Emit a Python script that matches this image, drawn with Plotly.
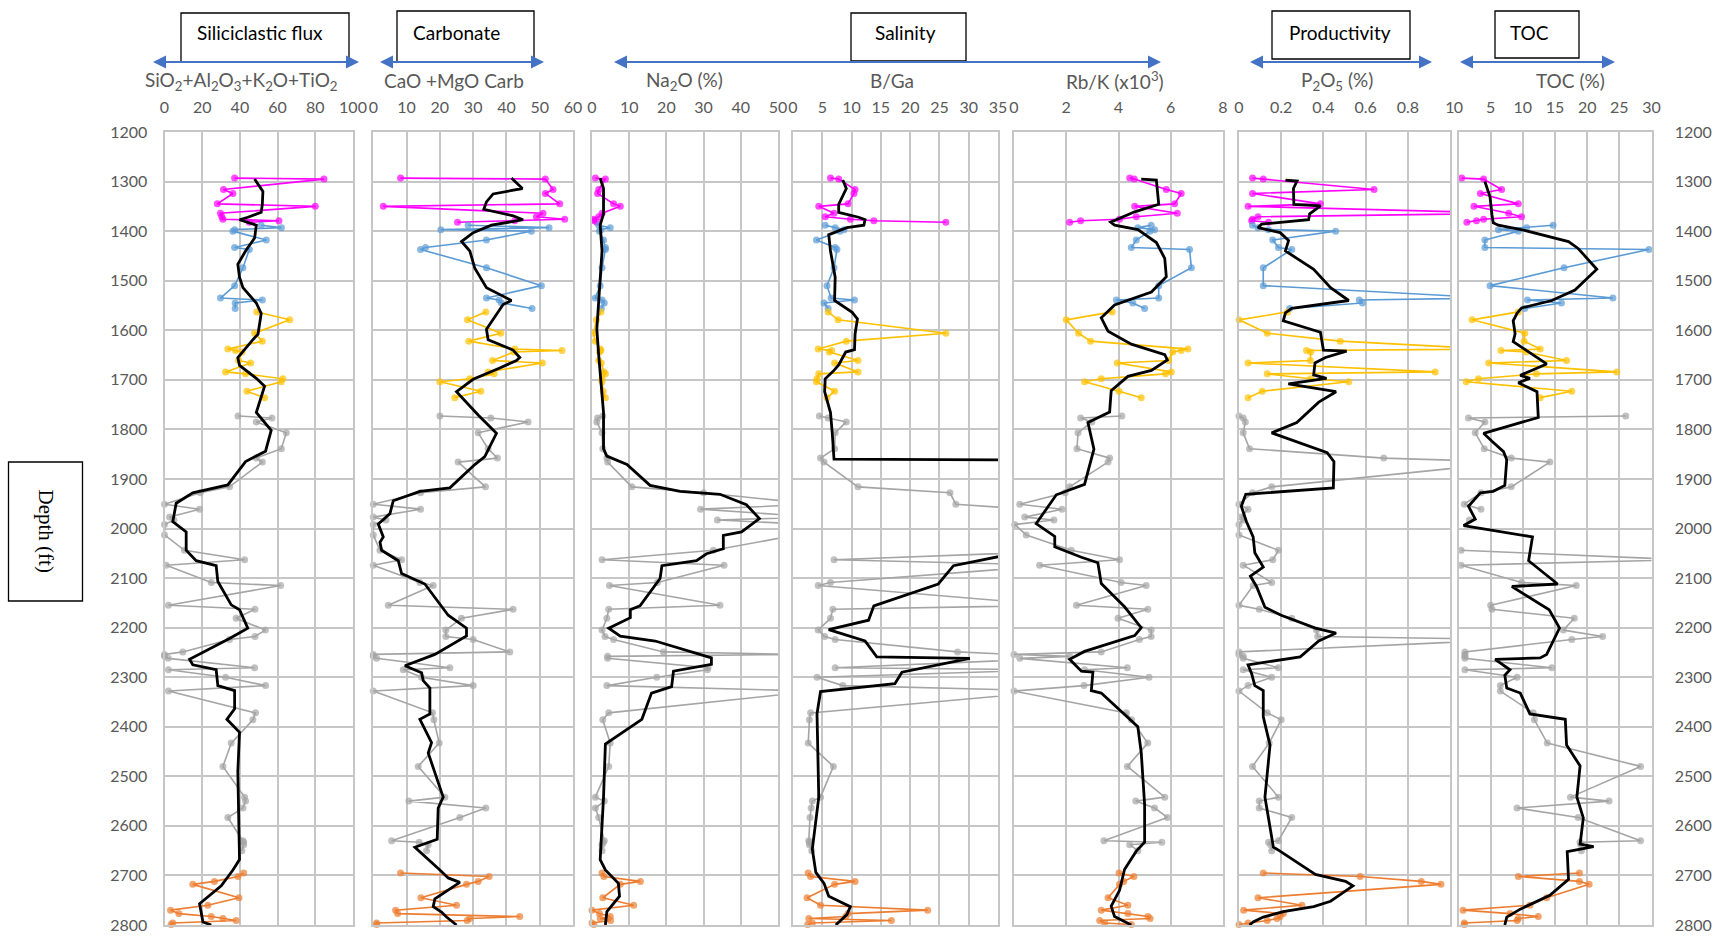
import plotly.graph_objects as go

# ---------------- sample depths (ft) per interval ----------------
DEPTH_M = [1293, 1295, 1316, 1324, 1345, 1350, 1364, 1371, 1376, 1379, 1382]
DEPTH_B = [1388, 1393, 1397, 1400, 1418, 1433, 1437, 1474, 1510, 1535, 1539, 1545, 1556]
DEPTH_Y = [1563, 1579, 1606, 1622, 1638, 1641, 1644, 1661, 1666, 1684, 1688, 1698, 1704, 1723, 1736]
DEPTH_G = [1773, 1777, 1785, 1807, 1839, 1858, 1866, 1916, 1928, 1951, 1961, 1977, 1983, 1992, 2013,
           2044, 2063, 2074, 2109, 2115, 2155, 2163, 2181, 2205, 2218, 2224, 2249, 2254, 2258, 2262,
           2281, 2285, 2300, 2317, 2328, 2372, 2386, 2433, 2480, 2542, 2550, 2564, 2583, 2630, 2633,
           2638, 2650]
DEPTH_O = [2695, 2702, 2712, 2718, 2745, 2760, 2770, 2777, 2783, 2787, 2791, 2796, 2799]

# ---------------- SiO2+Al2O3+K2O+TiO2 ----------------
SIL_M = [37.2, 84.6, 31.3, 36.3, 28, 80, 29.7, 30.4, 31, 60.7, 45]
SIL_B = [51.3, 62, 37.2, 36.3, 54, 37.2, 45, 41.6, 37.2, 29.7, 51.9, 37.5, 37.5]
SIL_Y = [49, 66.4, 47.8, 51.9, 33.6, 37.7, 41.2, 39.3, 45.7, 32.4, 43, 62.8, 61.9, 43.7, 53.1]
SIL_G = [39, 57, 48.7, 64.6, 62, 48.7, 51.9, 34.5, 19, 0, 18.6, 2.7, 5, 0, 0,
         10.6, 42.5, 0.9, 24.8, 61.6, 2.1, 48, 38, 53.5, 48, 34.5, 9.7, 0, 0, 2,
         47.8, 2.1, 32.4, 53.6, 2.1, 48.3, 46.9, 35.4, 31, 42.5, 43, 41.6, 33.6, 41.6, 42, 42, 41]
SIL_O = [42, 39, 26.5, 15, 39.5, 23, 3.2, 7.6, 24.8, 31, 38, 4.4, 3.5]
SIL_AVG_D = [1295, 1320, 1346, 1362, 1372, 1377, 1388, 1414, 1440, 1467, 1493, 1514, 1545, 1566, 1608,
             1619, 1655, 1671, 1697, 1713, 1766, 1802, 1844, 1865, 1912, 1928, 1949, 1986, 2007, 2044,
             2065, 2075, 2107, 2154, 2164, 2201, 2222, 2253, 2264, 2275, 2285, 2317, 2327, 2364, 2385,
             2411, 2490, 2668, 2689, 2721, 2757, 2794, 2800]
SIL_AVG = [47.8, 52.2, 51.9, 51.3, 44.2, 39.8, 48.7, 47.8, 43, 38.9, 39.8, 41.6, 48.7, 51.3, 49.6,
           46.9, 38.9, 39.8, 48.7, 53.1, 48.7, 56.6, 53.6, 43, 33.6, 15, 6.2, 4.4, 11.5, 11.5,
           16.8, 27.4, 28.3, 35.4, 39.8, 44.2, 34.5, 18.6, 13.3, 15, 27.4, 28.3, 37.2, 37.2, 33.1,
           39.8, 38.9, 39.8, 36.3, 30.1, 18.6, 20.4, 24.8]

# ---------------- CaO+MgO Carb ----------------
CARB_M = [8.2, 51.7, 54, 51.7, 56, 3, 51, 49, 57.5, 42.5, 25.3]
CARB_B = [28.5, 52.8, 20.3, 47.5, 34, 15.7, 14.2, 34, 50.5, 34, 37.8, 38.5, 47.7]
CARB_Y = [33.8, 28.3, 38.3, 28.7, 42.5, 56.7, 42.2, 35.8, 50.8, 34.5, 36.3, 29, 20, 32.3, 24.5]
CARB_G = [20, 35.3, 46.5, 31.5, 34.5, 37.3, 25.5, 33.7, 14.2, 0, 14.2, 0, 3.8, 0, 0,
          2, 8.5, 0, 14, 18, 4.5, 42, 26.5, 21.8, 21.8, 30, 41, 0, 0, 1,
          23, 9, 14.5, 30, 0, 17.8, 18.2, 19.8, 13.5, 21.5, 10.7, 33.8, 26, 5.5, 13.8, 16.5, 16]
CARB_O = [8.2, 34.8, 31.5, 28, 14.3, 25, 6.7, 7.3, 44, 29, 28.2, 1, 1]
CARB_AVG_D = [1293, 1314, 1325, 1341, 1356, 1369, 1377, 1388, 1403, 1421, 1440, 1475, 1514, 1535, 1540,
              1548, 1567, 1598, 1619, 1640, 1655, 1661, 1676, 1699, 1724, 1771, 1808, 1855, 1871, 1918,
              1925, 1944, 1970, 1991, 2017, 2028, 2044, 2065, 2091, 2112, 2175, 2201, 2217, 2254, 2277,
              2291, 2307, 2322, 2374, 2385, 2432, 2453, 2542, 2564, 2627, 2643, 2689, 2705, 2714, 2747,
              2763, 2774, 2784, 2800]
CARB_AVG = [41.5, 44.8, 36, 34, 33.2, 42, 45, 35.5, 30, 26.5, 29, 30.5, 34, 40, 41.5,
            39, 37, 34, 34.5, 42, 44, 43, 38, 30, 25, 31.5, 37, 33.5, 30.5, 23,
            14, 6, 5, 1.5, 3, 2, 2.5, 7.5, 8.5, 15.5, 22.5, 28, 28, 18.5, 9.5,
            14.5, 15, 17, 17, 14, 17.5, 16.5, 21, 19.5, 19.2, 12.5, 20, 22.5, 26, 18.5,
            18, 20.5, 22, 25]

# ---------------- Na2O (%) ----------------
NA_M = [0.9, 3.6, 1.8, 1.5, 5.8, 7.6, 2.7, 1.8, 0.4, 0.5, 1.3]
NA_B = [1.8, 4.9, 2.4, 2, 3.1, 3.6, 3.6, 2.7, 2.2, 0.9, 2.7, 3.3, 2.5]
NA_Y = [2.4, 1.2, 0.4, 0.9, 2.2, 2.4, 2.0, 1.8, 2.5, 3.2, 3.6, 2.7, 2.7, 3.0, 3.6]
NA_G = [2.9, 1.5, 1.3, 2.7, 2.9, 4, 4.2, 10.7, 30, 60, 29.2, 60, 33.7, 60, 55,
        32.6, 2.7, 35.5, 17.6, 4.7, 34.4, 4.5, 4, 2.7, 3.5, 5.8, 19.2, 55, 4.2, 4.2,
        31.2, 31, 17.4, 4, 60, 4.5, 2.9, 4.9, 4.5, 0.9, 3.3, 0.9, 1.8, 3.3, 3, 2.7, 2.7]
NA_O = [2.7, 3.2, 13, 7.6, 2.9, 11.2, 0, 2, 4.9, 2.2, 5, 0, 0.5]
NA_AVG_D = [1293, 1314, 1365, 1388, 1440, 1493, 1545, 1598, 1650, 1724, 1766, 1839, 1854, 1871, 1913,
            1925, 1931, 1952, 1980, 2007, 2014, 2041, 2051, 2065, 2075, 2101, 2156, 2164, 2180, 2201,
            2217, 2227, 2250, 2261, 2274, 2288, 2319, 2332, 2385, 2435, 2542, 2668, 2689, 2716, 2742,
            2773, 2800]
NA_AVG = [2.2, 3.1, 3.1, 2.2, 2.7, 2.2, 1.8, 1.3, 1.8, 2.7, 3.1, 3.1, 4, 9.4, 15.6,
          23.7, 34.4, 41.5, 45, 40.2, 35.3, 35.3, 30.8, 28.1, 18.8, 18.3, 12.9, 10.3, 10.3, 4.5,
          7.6, 17, 27.2, 32.1, 32.1, 21.9, 21.4, 16, 13.4, 3.6, 3.1, 2.2, 3.6, 7.1, 7.4,
          4, 3.6]

# ---------------- B/Ga ----------------
BGA_M = [6.4, 7.8, 10.6, 10.4, 9.4, 4.4, 7, 5.5, 9.8, 13.8, 26.1]
BGA_B = [5.5, 7.2, 8.7, 8, 4, 7.2, 7.5, 7, 5.8, 6.5, 10.5, 5.3, 6]
BGA_Y = [6, 7.7, 26.1, 9.1, 4.3, 6.6, 6.2, 11.1, 7.1, 11.1, 4.4, 4.1, 4.0, 7.1, 5.8]
BGA_G = [4.5, 6, 9.1, 7.2, 7.1, 4.7, 5.3, 11.1, 26.8, 27.8, 50, 60, 50, 45, 50,
         50, 7, 45, 6.4, 4.3, 45, 6.8, 6.4, 4.3, 5.4, 7.2, 28.1, 45, 45, 45,
         7.2, 45, 4.1, 8.5, 45, 3, 2.8, 2.6, 6.9, 4.7, 3.3, 3.1, 2.9, 2.7, 2.8, 2.8, 3.2]
BGA_O = [2.6, 3, 10.6, 7.1, 2.4, 4.7, 23, 9.4, 9, 2.7, 16.8, 3.3, 2.5]
BGA_AVG_D = [1297, 1314, 1346, 1362, 1372, 1377, 1388, 1393, 1407, 1440, 1493, 1540, 1564, 1577, 1607,
             1639, 1644, 1670, 1681, 1698, 1724, 1766, 1807, 1860, 1862, 1950, 2045, 2057, 2075, 2112,
             2156, 2185, 2204, 2227, 2259, 2262, 2290, 2313, 2329, 2374, 2542, 2647, 2694, 2716, 2742,
             2763, 2779, 2800]
BGA_AVG = [8.5, 9.1, 7.8, 7.8, 11.2, 12.3, 12.1, 9.2, 6.1, 6.4, 7.2, 7.1, 10.1, 11, 10.6,
           10.5, 9, 7.8, 7, 5.5, 5.4, 6.4, 6.7, 7, 45, 60, 40, 35, 27.4, 24.8,
           13.8, 12.9, 6.1, 12.3, 14.3, 30.2, 18.6, 17.4, 4.7, 4.1, 4.4, 3.3, 3.9, 5.3, 6.1,
           9.8, 9.2, 7.3]

# ---------------- Rb/K (x10^3) ----------------
RBK_M = [4.43, 4.6, 5.83, 6.4, 6.15, 4.62, 6.25, 4.68, 4.04, 2.55, 2.13]
RBK_B = [5.25, 4.74, 5.38, 5.2, 4.68, 4.49, 6.72, 6.79, 5.54, 5.54, 3.92, 4.55, 5.0]
RBK_Y = [3.76, 2.0, 2.47, 2.93, 6.66, 6.4, 6.08, 5.92, 3.95, 6.02, 5.8, 3.34, 2.7, 4.02, 4.87]
RBK_G = [4.13, 2.55, 2.98, 2.45, 2.41, 3.66, 3.6, 2.13, 1.96, 0.22, 1.84, 0.41, 1.53, 0.03, 0.47,
         2.19, 4.04, 0.98, 4.1, 5.06, 2.39, 5.12, 3.98, 5.25, 5.25, 4.8, 3.34, 0, 2.13, 0.22,
         4.34, 2.7, 5.17, 2.68, 0, 4.3, 4.5, 5.12, 4.34, 5.77, 4.66, 5.38, 5.87, 3.44, 5.66, 4.43, 4.74]
RBK_O = [4.02, 4.59, 4.2, 4.04, 3.6, 4.36, 3.34, 4.36, 5.13, 5.21, 3.28, 3.47, 4.49]
RBK_AVG_D = [1295, 1297, 1346, 1361, 1382, 1388, 1397, 1423, 1455, 1492, 1523, 1549, 1575, 1602, 1628,
             1649, 1660, 1681, 1693, 1722, 1765, 1786, 1840, 1911, 1932, 1990, 2016, 2037, 2058, 2069,
             2111, 2158, 2200, 2216, 2248, 2264, 2288, 2290, 2327, 2332, 2400, 2452, 2557, 2633, 2651,
             2688, 2730, 2762, 2783, 2800]
RBK_AVG = [4.87, 5.45, 5.54, 4.62, 3.7, 3.85, 4.74, 5.45, 5.77, 5.83, 5.26, 3.85, 3.34, 3.6, 4.49,
           5.77, 5.87, 5.26, 4.36, 3.72, 3.66, 2.83, 3.06, 2.7, 1.62, 0.85, 1.56, 1.56, 2.58, 3.21,
           3.34, 4.23, 4.87, 4.62, 2.7, 2.13, 2.58, 3.02, 2.96, 3.34, 4.74, 4.87, 5, 5, 4.68,
           4.23, 4.04, 3.72, 3.85, 4.49]

# ---------------- P2O5 (%) ----------------
P2O5_M = [0.064, 0.115, 0.64, 0.064, 0.386, 0.043, 1.3, 0.09, 0.064, 0.06, 0.14]
P2O5_B = [0.064, 0.09, 0.14, 0.458, 0.16, 0.187, 0.25, 0.115, 0.115, 1.2, 0.57, 0.585, 0.24]
P2O5_Y = [0.23, 0, 0.134, 0.48, 1.2, 0.32, 0.34, 0.338, 0.043, 0.93, 0.134, 0.34, 0.52, 0.11, 0.043]
P2O5_G = [0, 0.02, 0.03, 0.02, 0.05, 0.686, 1.3, 0.155, 0.064, 0, 0.043, 0.01, 0.02, 0, 0,
          0.187, 0.16, 0.02, 0.155, 0.067, 0, 0.096, 0.25, 0.367, 0.373, 1.3, 0, 0, 0.02, 0.02,
          0.187, 0.02, 0.155, 0.043, 0, 0.134, 0.2, 0.143, 0.064, 0.187, 0.096, 0.096, 0.25, 0.187, 0.14,
          0.15, 0.155]
P2O5_O = [0.115, 0.574, 0.864, 0.957, 0.09, 0.298, 0.022, 0.21, 0.195, 0.18, 0.134, 0.043, 0]
P2O5_AVG_D = [1297, 1299, 1314, 1346, 1349, 1365, 1377, 1386, 1393, 1403, 1419, 1440, 1477, 1514, 1540,
              1556, 1565, 1581, 1604, 1640, 1642, 1655, 1666, 1690, 1697, 1708, 1724, 1745, 1786, 1807,
              1847, 1865, 1918, 1931, 1955, 1986, 2017, 2049, 2078, 2096, 2117, 2159, 2175, 2201, 2211,
              2227, 2259, 2275, 2293, 2317, 2327, 2380, 2437, 2542, 2643, 2647, 2698, 2712, 2721, 2752,
              2763, 2773, 2784, 2794, 2800]
P2O5_AVG = [0.22, 0.275, 0.258, 0.26, 0.386, 0.335, 0.33, 0.107, 0.09, 0.195, 0.235, 0.22, 0.354, 0.434, 0.52,
            0.25, 0.22, 0.21, 0.386, 0.40, 0.51, 0.41, 0.36, 0.354, 0.415, 0.234, 0.46, 0.378, 0.274, 0.155,
            0.418, 0.45, 0.447, 0.032, 0.011, 0.035, 0.067, 0.075, 0.115, 0.054, 0.083, 0.123, 0.2, 0.362, 0.46,
            0.378, 0.29, 0.043, 0.06, 0.075, 0.115, 0.115, 0.147, 0.123, 0.163, 0.18, 0.362, 0.505, 0.54, 0.434,
            0.354, 0.21, 0.115, 0.067, 0.05]

# ---------------- TOC (%) ----------------
TOC_M = [0.5, 3.9, 6.7, 3.4, 9.3, 2.4, 7.8, 9.8, 3.9, 2.8, 1.3]
TOC_B = [14.7, 10.6, 6.2, 9.3, 4.1, 4.1, 29.6, 16.4, 4.9, 24, 10.7, 16, 10.3]
TOC_Y = [9.3, 2.1, 10.3, 10.2, 12.7, 6.6, 10.5, 16.8, 4.7, 24.6, 12.1, 3.1, 1.2, 17.6, 12.7]
TOC_G = [26, 1.55, 4.1, 2.6, 4, 8.2, 14.2, 8.2, 3.5, 0.9, 3.5, None, 1.7, None, None,
         0.4, 35, 0.4, 9.8, 18.3, 5, 5.2, 18, 16.3, 22.4, 17.6, 1, 1, 1, 1,
         14.5, 1, 9.1, 6.5, 6.5, 11.6, 11.8, 13.8, 28.3, 17.4, 23.4, 9.1, 18.6, 28.3, 18.9, 19, 19.1]
TOC_O = [18.8, 9.3, 18.8, 20.3, 13.7, 11.1, 0.7, 8, 12.4, 9.3, 9.1, 0.9, 0.9]
TOC_AVG_D = [1300, 1331, 1367, 1383, 1388, 1398, 1421, 1435, 1477, 1519, 1540, 1555, 1566, 1581, 1607,
             1623, 1641, 1655, 1668, 1691, 1697, 1706, 1724, 1776, 1792, 1808, 1824, 1845, 1861, 1913,
             1925, 1928, 1955, 1981, 1994, 2017, 2065, 2112, 2117, 2164, 2201, 2254, 2261, 2264, 2285,
             2296, 2322, 2332, 2374, 2385, 2437, 2479, 2542, 2584, 2637, 2642, 2652, 2708, 2740, 2757,
             2768, 2784, 2800]
TOC_AVG = [4.1, 4.9, 5.2, 5.4, 6.2, 10.1, 17.1, 18.6, 21.5, 18.1, 14.5, 9.8, 9.1, 8.5, 8.8,
           8.5, 10.6, 12.2, 13.7, 9.6, 11.1, 9.3, 12.2, 12.4, 8, 3.9, 5.2, 7, 7.5, 7.2,
           5.4, 3.4, 1.55, 2.6, 0.8, 11.5, 10.9, 15.4, 8.3, 14.1, 15.7, 13.7, 12.7, 5.7, 8,
           7.2, 7.5, 9.6, 11.1, 16.6, 16.8, 18.9, 18.4, 19.4, 18.9, 21, 16.9, 17.1, 14.2, 11.4,
           9.6, 7.5, 7.2]

X_RANGES = [100, 60, 50, 35, 8, 1, 30]
X_DTICKS = [20, 10, 10, 5, 2, 0.2, 5]
AXIS_TITLES = ["SiO<sub>2</sub>+Al<sub>2</sub>O<sub>3</sub>+K<sub>2</sub>O+TiO<sub>2</sub>",
               "CaO +MgO Carb", "Na<sub>2</sub>O (%)", "B/Ga", "Rb/K (x10<sup>3</sup>)",
               "P<sub>2</sub>O<sub>5</sub> (%)", "TOC (%)"]
GROUP_TITLES = ["Siliciclastic flux", "Carbonate", "Salinity", "Productivity", "TOC"]

SERIES = [
    (SIL_M, SIL_B, SIL_Y, SIL_G, SIL_O, SIL_AVG_D, SIL_AVG),
    (CARB_M, CARB_B, CARB_Y, CARB_G, CARB_O, CARB_AVG_D, CARB_AVG),
    (NA_M, NA_B, NA_Y, NA_G, NA_O, NA_AVG_D, NA_AVG),
    (BGA_M, BGA_B, BGA_Y, BGA_G, BGA_O, BGA_AVG_D, BGA_AVG),
    (RBK_M, RBK_B, RBK_Y, RBK_G, RBK_O, RBK_AVG_D, RBK_AVG),
    (P2O5_M, P2O5_B, P2O5_Y, P2O5_G, P2O5_O, P2O5_AVG_D, P2O5_AVG),
    (TOC_M, TOC_B, TOC_Y, TOC_G, TOC_O, TOC_AVG_D, TOC_AVG),
]

# ---------------- layout geometry (page pixels) ----------------
W, H = 1717, 937
PANEL_PX = [(164.5, 353), (373.3, 573), (592, 778), (793, 998), (1014, 1223), (1239, 1450), (1458.5, 1651.5)]
Y_TOP, Y_BOT = 132, 925
COLORS = {"M": "#FF00FF", "B": "#5B9BD5", "Y": "#FFC000", "G": "#A5A5A5", "O": "#ED7D31"}
GRID = "#C6C6C6"
TICKC = "#595959"
FONT = "Lato"
ARROWC = "#4472C4"


def px(x):
    return x / W


def py(y):
    return 1 - y / H


fig = go.Figure()
ydom = [py(Y_BOT), py(Y_TOP)]

for i, (sm, sb, sy, sg, so, ad, av) in enumerate(SERIES):
    n = i + 1
    xa = "x" if n == 1 else f"x{n}"
    ya = "y" if n == 1 else f"y{n}"
    xmax = X_RANGES[i]
    for vals, depths, key in [(sg, DEPTH_G, "G"), (sm, DEPTH_M, "M"), (sb, DEPTH_B, "B"),
                              (sy, DEPTH_Y, "Y"), (so, DEPTH_O, "O")]:
        sizes = [0 if (v is None or v > xmax) else 7 for v in vals]
        fig.add_trace(go.Scatter(
            x=vals, y=depths, mode="lines+markers", xaxis=xa, yaxis=ya,
            line=dict(color=COLORS[key], width=1.6),
            marker=dict(color=COLORS[key], size=sizes, line=dict(width=0)),
            connectgaps=False, cliponaxis=False, showlegend=False, hoverinfo="x+y"))
    fig.add_trace(go.Scatter(
        x=av, y=ad, mode="lines", xaxis=xa, yaxis=ya,
        line=dict(color="black", width=2.8), showlegend=False, hoverinfo="x+y"))

    x0, x1 = PANEL_PX[i]
    fig.layout[f"xaxis{'' if n == 1 else n}"] = dict(
        domain=[px(x0), px(x1)], range=[0, xmax], dtick=X_DTICKS[i], tick0=0,
        side="top", anchor=ya, showgrid=True, gridcolor=GRID, gridwidth=2,
        zeroline=False, showline=True, mirror=True, linecolor=GRID, linewidth=2,
        ticks="", ticklabelstandoff=11, automargin=False, ticklabeloverflow="allow",
        tickfont=dict(family=FONT, size=16, color=TICKC), fixedrange=True)
    yax = dict(
        domain=ydom, range=[2800, 1200], dtick=100, tick0=1200, anchor=xa,
        showgrid=True, gridcolor=GRID, gridwidth=2, zeroline=False,
        showline=True, mirror=True, linecolor=GRID, linewidth=2, ticks="",
        tickfont=dict(family=FONT, size=16, color=TICKC), fixedrange=True,
        showticklabels=(n == 1 or n == 7), automargin=False, ticklabeloverflow="allow")
    if n == 1:
        yax["ticklabelstandoff"] = 12
    if n == 7:
        yax["side"] = "right"
        yax["ticklabelstandoff"] = 18
    fig.layout[f"yaxis{'' if n == 1 else n}"] = yax

shapes = []
annotations = []

# axis titles under the headers
TITLE_CX = [241, 454, 684, 892, 1115, 1337, 1570]
for t, cx in zip(AXIS_TITLES, TITLE_CX):
    annotations.append(dict(text=t, x=px(cx), y=py(81), xref="paper", yref="paper",
                            xanchor="center", yanchor="middle", showarrow=False,
                            font=dict(family=FONT, size=19, color=TICKC)))

# group header boxes
BOXES = [(181, 349, 13, 62), (397, 534, 11, 62), (851, 966, 13, 61), (1272, 1410, 11, 59), (1495, 1579, 11, 58)]
TITLE_X = [195, 411, 873, 1287, 1508]
for (bx0, bx1, by0, by1), t, tx in zip(BOXES, GROUP_TITLES, TITLE_X):
    shapes.append(dict(type="rect", xref="paper", yref="paper", x0=px(bx0), x1=px(bx1),
                       y0=py(by1), y1=py(by0), line=dict(color="black", width=1.3),
                       fillcolor="white", layer="above"))
    annotations.append(dict(text=t, x=px(tx), y=py(32), xref="paper", yref="paper",
                            xanchor="left", yanchor="middle", showarrow=False,
                            font=dict(family=FONT, size=19, color="black")))

# blue double arrows (line + two triangular heads)
ARROWS = [(153, 359), (380, 544), (614, 1161), (1250, 1432), (1460, 1615)]
AY = 62
HL, HW = 13, 6.5
for a0, a1 in ARROWS:
    shapes.append(dict(type="line", xref="paper", yref="paper", x0=px(a0 + HL - 1), x1=px(a1 - HL + 1),
                       y0=py(AY), y1=py(AY), line=dict(color=ARROWC, width=2), layer="above"))
    left = f"M {px(a0)},{py(AY)} L {px(a0 + HL)},{py(AY - HW)} L {px(a0 + HL)},{py(AY + HW)} Z"
    right = f"M {px(a1)},{py(AY)} L {px(a1 - HL)},{py(AY - HW)} L {px(a1 - HL)},{py(AY + HW)} Z"
    for pth in (left, right):
        shapes.append(dict(type="path", xref="paper", yref="paper", path=pth,
                           fillcolor=ARROWC, line=dict(color=ARROWC, width=0), layer="above"))

# depth label box
shapes.append(dict(type="rect", xref="paper", yref="paper", x0=px(8.5), x1=px(82.5),
                   y0=py(601), y1=py(462), line=dict(color="black", width=1.3), fillcolor="white"))
annotations.append(dict(text="Depth (ft)", x=px(45.5), y=py(531), xref="paper", yref="paper",
                        textangle=90, showarrow=False, xanchor="center", yanchor="middle",
                        font=dict(family="Liberation Serif", size=21, color="black")))

fig.update_layout(width=W, height=H, margin=dict(l=0, r=0, t=0, b=0, autoexpand=False),
                  paper_bgcolor="white", plot_bgcolor="white",
                  shapes=shapes, annotations=annotations, showlegend=False)

# remove the default page margin so the figure fills the 1717x937 window exactly
fig.write_html("out.html", config={"displayModeBar": False},
               post_script="document.body.style.margin='0';document.body.style.overflow='hidden';")
